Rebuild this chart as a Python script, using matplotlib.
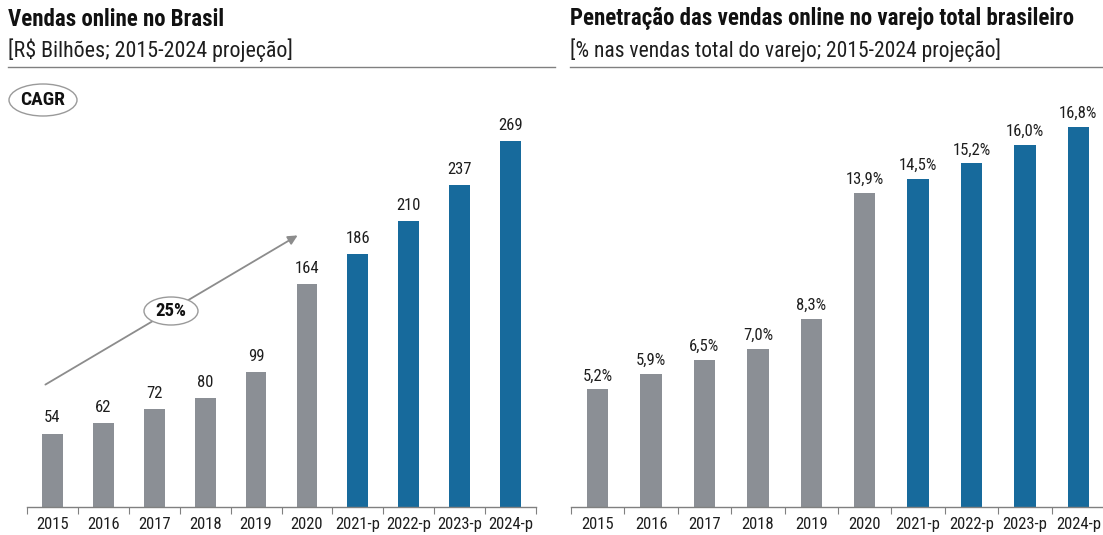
import matplotlib
matplotlib.use("Agg")
import matplotlib.pyplot as plt
from matplotlib.patches import Ellipse, FancyArrowPatch

plt.rcParams['font.family'] = ['Roboto Condensed', 'Liberation Sans', 'DejaVu Sans']

categories = ["2015", "2016", "2017", "2018", "2019", "2020", "2021-p", "2022-p", "2023-p", "2024-p"]
sales = [54, 62, 72, 80, 99, 164, 186, 210, 237, 269]
penetration = [5.2, 5.9, 6.5, 7.0, 8.3, 13.9, 14.5, 15.2, 16.0, 16.8]
penetration_labels = ["5,2%", "5,9%", "6,5%", "7,0%", "8,3%", "13,9%", "14,5%", "15,2%", "16,0%", "16,8%"]
projected = [False] * 6 + [True] * 4

GRAY = "#8B8F95"
BLUE = "#176A9C"
TXT = "#1E1E1E"
W, H = 1103, 535

fig = plt.figure(figsize=(W / 100, H / 100), dpi=100)

def px_axes(x0, x1, ybase, ytop):
    return fig.add_axes([x0 / W, (H - ybase) / H, (x1 - x0) / W, (ybase - ytop) / H])

def style(ax, ymax):
    ax.set_xlim(-0.5, len(categories) - 0.5)
    ax.set_ylim(0, ymax)
    for s in ["top", "right", "left"]:
        ax.spines[s].set_visible(False)
    ax.spines["bottom"].set_color("#808080")
    ax.spines["bottom"].set_linewidth(1.0)
    ax.set_yticks([])
    ax.set_xticks([i - 0.5 for i in range(len(categories) + 1)], minor=False)
    ax.set_xticklabels([])
    ax.tick_params(axis="x", which="major", length=5, color="#808080", direction="out")
    ax.set_xticks(range(len(categories)), minor=True)
    ax.set_xticklabels(categories, minor=True, fontsize=12, color=TXT)
    ax.tick_params(axis="x", which="minor", length=0, pad=7)

colors = [BLUE if p else GRAY for p in projected]
x = range(len(categories))

# Left chart
ax1 = px_axes(27, 536, 507, 75)
ax1.bar(x, sales, width=0.41, color=colors)
style(ax1, 432 / 1.36)
for i, v in enumerate(sales):
    ax1.text(i, v + 6, str(v), ha="center", va="bottom", fontsize=12, color=TXT)

# Right chart
ax2 = px_axes(571, 1105, 507, 75)
ax2.bar(x, penetration, width=0.40, color=colors)
style(ax2, 432 / 22.6)
for i, v in enumerate(penetration):
    ax2.text(i, v + 0.27, penetration_labels[i], ha="center", va="bottom", fontsize=12, color=TXT)

# Titles
fig.text(8 / W, 1 - 19 / H, "Vendas online no Brasil", fontsize=16.5, fontweight="bold", va="center", ha="left", color="#111111")
fig.text(8 / W, 1 - 50 / H, "[R$ Bilhões; 2015-2024 projeção]", fontsize=15.8, va="center", ha="left", color=TXT)
fig.text(570 / W, 1 - 19 / H, "Penetração das vendas online no varejo total brasileiro", fontsize=16.5, fontweight="bold", va="center", ha="left", color="#111111")
fig.text(570 / W, 1 - 50 / H, "[% nas vendas total do varejo; 2015-2024 projeção]", fontsize=15.5, va="center", ha="left", color=TXT)
fig.add_artist(plt.Line2D([8 / W, 555 / W], [1 - 67 / H, 1 - 67 / H], color="#808080", lw=1))
fig.add_artist(plt.Line2D([570 / W, 1103 / W], [1 - 67 / H, 1 - 67 / H], color="#808080", lw=1))

# CAGR annotation
fig.add_artist(Ellipse((43 / W, 1 - 100 / H), 68 / W, 32 / H, facecolor="white", edgecolor="#9A9A9A", lw=1))
fig.text(43 / W, 1 - 100 / H, "CAGR", fontsize=14, fontweight="bold", ha="center", va="center", color="#111111")

fig.add_artist(FancyArrowPatch((43 / W, 1 - 386 / H), (300 / W, 1 - 234 / H),
                               transform=fig.transFigure, arrowstyle="-|>",
                               mutation_scale=14, color="#8C8C8C", lw=1.3))
fig.add_artist(Ellipse((171 / W, 1 - 311 / H), 54 / W, 28 / H, facecolor="white", edgecolor="#9A9A9A", lw=1))
fig.text(171 / W, 1 - 311 / H, "25%", fontsize=13.5, fontweight="bold", ha="center", va="center", color="#111111")

fig.savefig("out.png", dpi=100)
